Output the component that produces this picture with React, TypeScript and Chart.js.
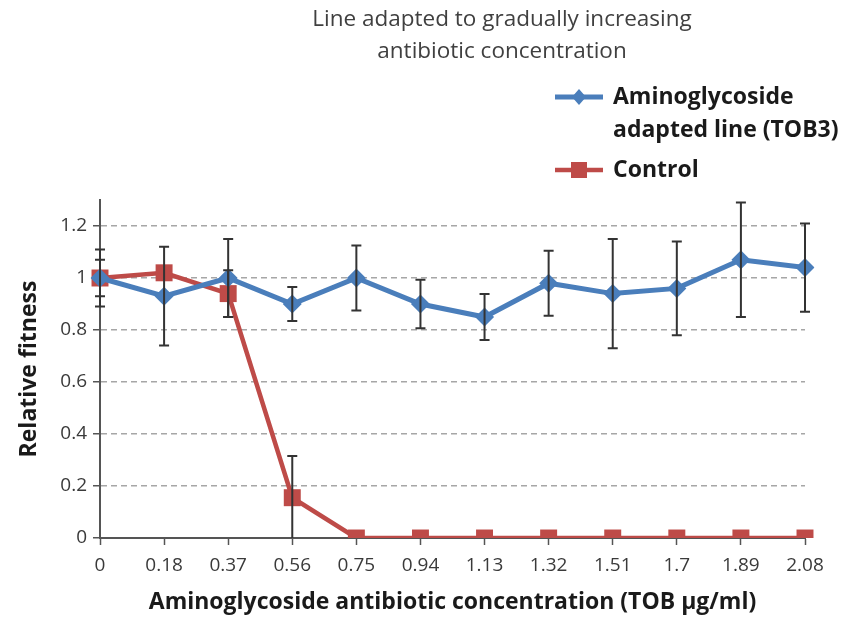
import React, { useEffect, useRef } from "react";
import { Chart, registerables } from "chart.js";

Chart.register(...registerables);

// TOB concentrations (µg/ml) on the x axis
const concentrations = ["0", "0.18", "0.37", "0.56", "0.75", "0.94", "1.13", "1.32", "1.51", "1.7", "1.89", "2.08"];

// Aminoglycoside adapted line (TOB3): relative fitness and error
const adaptedFitness = [1.0, 0.93, 1.0, 0.9, 1.0, 0.9, 0.85, 0.98, 0.94, 0.96, 1.07, 1.04];
const adaptedError = [0.11, 0.19, 0.15, 0.065, 0.125, 0.093, 0.088, 0.125, 0.21, 0.18, 0.22, 0.17];

// Control line: relative fitness and error
const controlFitness = [1.0, 1.02, 0.94, 0.155, 0, 0, 0, 0, 0, 0, 0, 0];
const controlError = [0.07, 0, 0.09, 0.16, 0, 0, 0, 0, 0, 0, 0, 0];

const titleLines = ["Line adapted to gradually increasing", "antibiotic concentration"];
const adaptedLabel = ["Aminoglycoside", "adapted line (TOB3)"];
const controlLabel = "Control";

const BLUE = "#4A7EBB";
const RED = "#BE4B48";
const FONT = "'Open Sans', sans-serif";

// Draws symmetric error bars with caps on top of the series
const errorBarPlugin = {
  id: "errorBars",
  afterDatasetsDraw(chart: any) {
    const { ctx, chartArea, scales } = chart;
    const xs = scales.x;
    const ys = scales.y;
    ctx.save();
    ctx.beginPath();
    ctx.rect(chartArea.left - 20, chartArea.top - 20, chartArea.right - chartArea.left + 40, chartArea.bottom - chartArea.top + 20);
    ctx.clip();
    ctx.strokeStyle = "#333";
    ctx.lineWidth = 2;
    chart.data.datasets.forEach((ds: any) => {
      const errs: number[] = ds.errors || [];
      ds.data.forEach((v: number, i: number) => {
        const e = errs[i];
        if (!e) return;
        const x = xs.getPixelForValue(i);
        const yt = ys.getPixelForValue(v + e);
        const yb = ys.getPixelForValue(v - e);
        ctx.beginPath();
        ctx.moveTo(x, yt);
        ctx.lineTo(x, yb);
        ctx.moveTo(x - 5, yt);
        ctx.lineTo(x + 5, yt);
        ctx.moveTo(x - 5, yb);
        ctx.lineTo(x + 5, yb);
        ctx.stroke();
      });
    });
    ctx.restore();
  },
};

// Title and legend drawn above the plot area
const headerPlugin = {
  id: "header",
  afterDraw(chart: any) {
    const { ctx } = chart;
    ctx.save();
    ctx.fillStyle = "#404040";
    ctx.font = `22.5px ${FONT}`;
    ctx.textAlign = "center";
    ctx.textBaseline = "middle";
    ctx.fillText(titleLines[0], 502, 20);
    ctx.fillText(titleLines[1], 502, 52);

    // legend entries
    const lx0 = 555;
    const lx1 = 603;
    const mx = (lx0 + lx1) / 2;
    const tx = 613;
    ctx.lineCap = "butt";

    // adapted line entry
    ctx.strokeStyle = BLUE;
    ctx.lineWidth = 5;
    ctx.beginPath();
    ctx.moveTo(lx0, 97);
    ctx.lineTo(lx1, 97);
    ctx.stroke();
    ctx.fillStyle = BLUE;
    ctx.beginPath();
    ctx.moveTo(mx, 89);
    ctx.lineTo(mx + 7, 97);
    ctx.lineTo(mx, 105);
    ctx.lineTo(mx - 7, 97);
    ctx.closePath();
    ctx.fill();

    // control entry
    ctx.strokeStyle = RED;
    ctx.lineWidth = 4.5;
    ctx.beginPath();
    ctx.moveTo(lx0, 170);
    ctx.lineTo(lx1, 170);
    ctx.stroke();
    ctx.fillStyle = RED;
    ctx.fillRect(mx - 8, 162, 16, 16);

    ctx.fillStyle = "#1a1a1a";
    ctx.font = `bold 23px ${FONT}`;
    ctx.textAlign = "left";
    ctx.fillText(adaptedLabel[0], tx, 97);
    ctx.fillText(adaptedLabel[1], tx, 130);
    ctx.fillText(controlLabel, tx, 170);
    ctx.restore();
  },
};

export default function App() {
  const canvasRef = useRef<HTMLCanvasElement | null>(null);

  useEffect(() => {
    const canvas = canvasRef.current;
    if (!canvas) return;
    const chart = new Chart(canvas, {
      type: "line",
      data: {
        labels: concentrations,
        datasets: [
          {
            label: adaptedLabel.join(" "),
            data: adaptedFitness,
            errors: adaptedError,
            borderColor: BLUE,
            backgroundColor: BLUE,
            borderWidth: 5,
            pointStyle: "rectRot",
            pointRadius: 9.5,
            pointBorderWidth: 0,
            tension: 0,
          } as any,
          {
            label: controlLabel,
            data: controlFitness,
            errors: controlError,
            borderColor: RED,
            backgroundColor: RED,
            borderWidth: 4.5,
            pointStyle: "rect",
            pointRadius: 12,
            pointBorderWidth: 0,
            tension: 0,
          } as any,
        ],
      },
      options: {
        responsive: false,
        animation: false,
        layout: { padding: { top: 200, right: 41, left: 0, bottom: 0 } },
        plugins: {
          legend: { display: false },
          title: { display: false },
          tooltip: { enabled: false },
        },
        scales: {
          x: {
            type: "category",
            offset: false,
            afterFit: (s: any) => {
              s.height = 79;
            },
            grid: {
              drawOnChartArea: false,
              drawTicks: true,
              tickLength: 7,
              tickColor: "#555",
              tickWidth: 1.5,
            },
            border: { color: "#555", width: 2 },
            ticks: {
              color: "#3a3a3a",
              font: { family: FONT, size: 19 },
              padding: 9,
              maxRotation: 0,
              autoSkip: false,
            },
            title: {
              display: true,
              text: "Aminoglycoside antibiotic concentration (TOB µg/ml)",
              color: "#1a1a1a",
              font: { family: FONT, size: 23, weight: "bold" },
              padding: { top: 0, bottom: 1 },
            },
          },
          y: {
            min: 0,
            max: 1.3,
            afterFit: (s: any) => {
              s.width = 100;
            },
            afterBuildTicks: (s: any) => {
              s.ticks = s.ticks.filter((t: any) => t.value <= 1.2001);
            },
            grid: {
              color: (c: any) => (c.tick && c.tick.value === 0 ? "rgba(0,0,0,0)" : "#a6a6a6"),
              lineWidth: 1.5,
              drawTicks: true,
              tickLength: 7,
              tickColor: "#555",
              tickWidth: 1.5,
              tickBorderDash: [],
            },
            border: { color: "#555", width: 2, dash: [6, 4] },
            ticks: {
              stepSize: 0.2,
              color: "#3a3a3a",
              font: { family: FONT, size: 19 },
              padding: 6,
              callback: (v: any) => String(Number(Number(v).toFixed(1))),
            },
            title: {
              display: true,
              text: "Relative fitness",
              color: "#1a1a1a",
              font: { family: FONT, size: 23, weight: "bold" },
              padding: { top: 16, bottom: 0 },
            },
          },
        },
      } as any,
      plugins: [errorBarPlugin, headerPlugin],
    });
    return () => chart.destroy();
  }, []);

  return (
    <div style={{ position: "absolute", left: 0, top: 0, width: 846, height: 617, background: "#fff" }}>
      <canvas ref={canvasRef} width={846} height={617} />
    </div>
  );
}
